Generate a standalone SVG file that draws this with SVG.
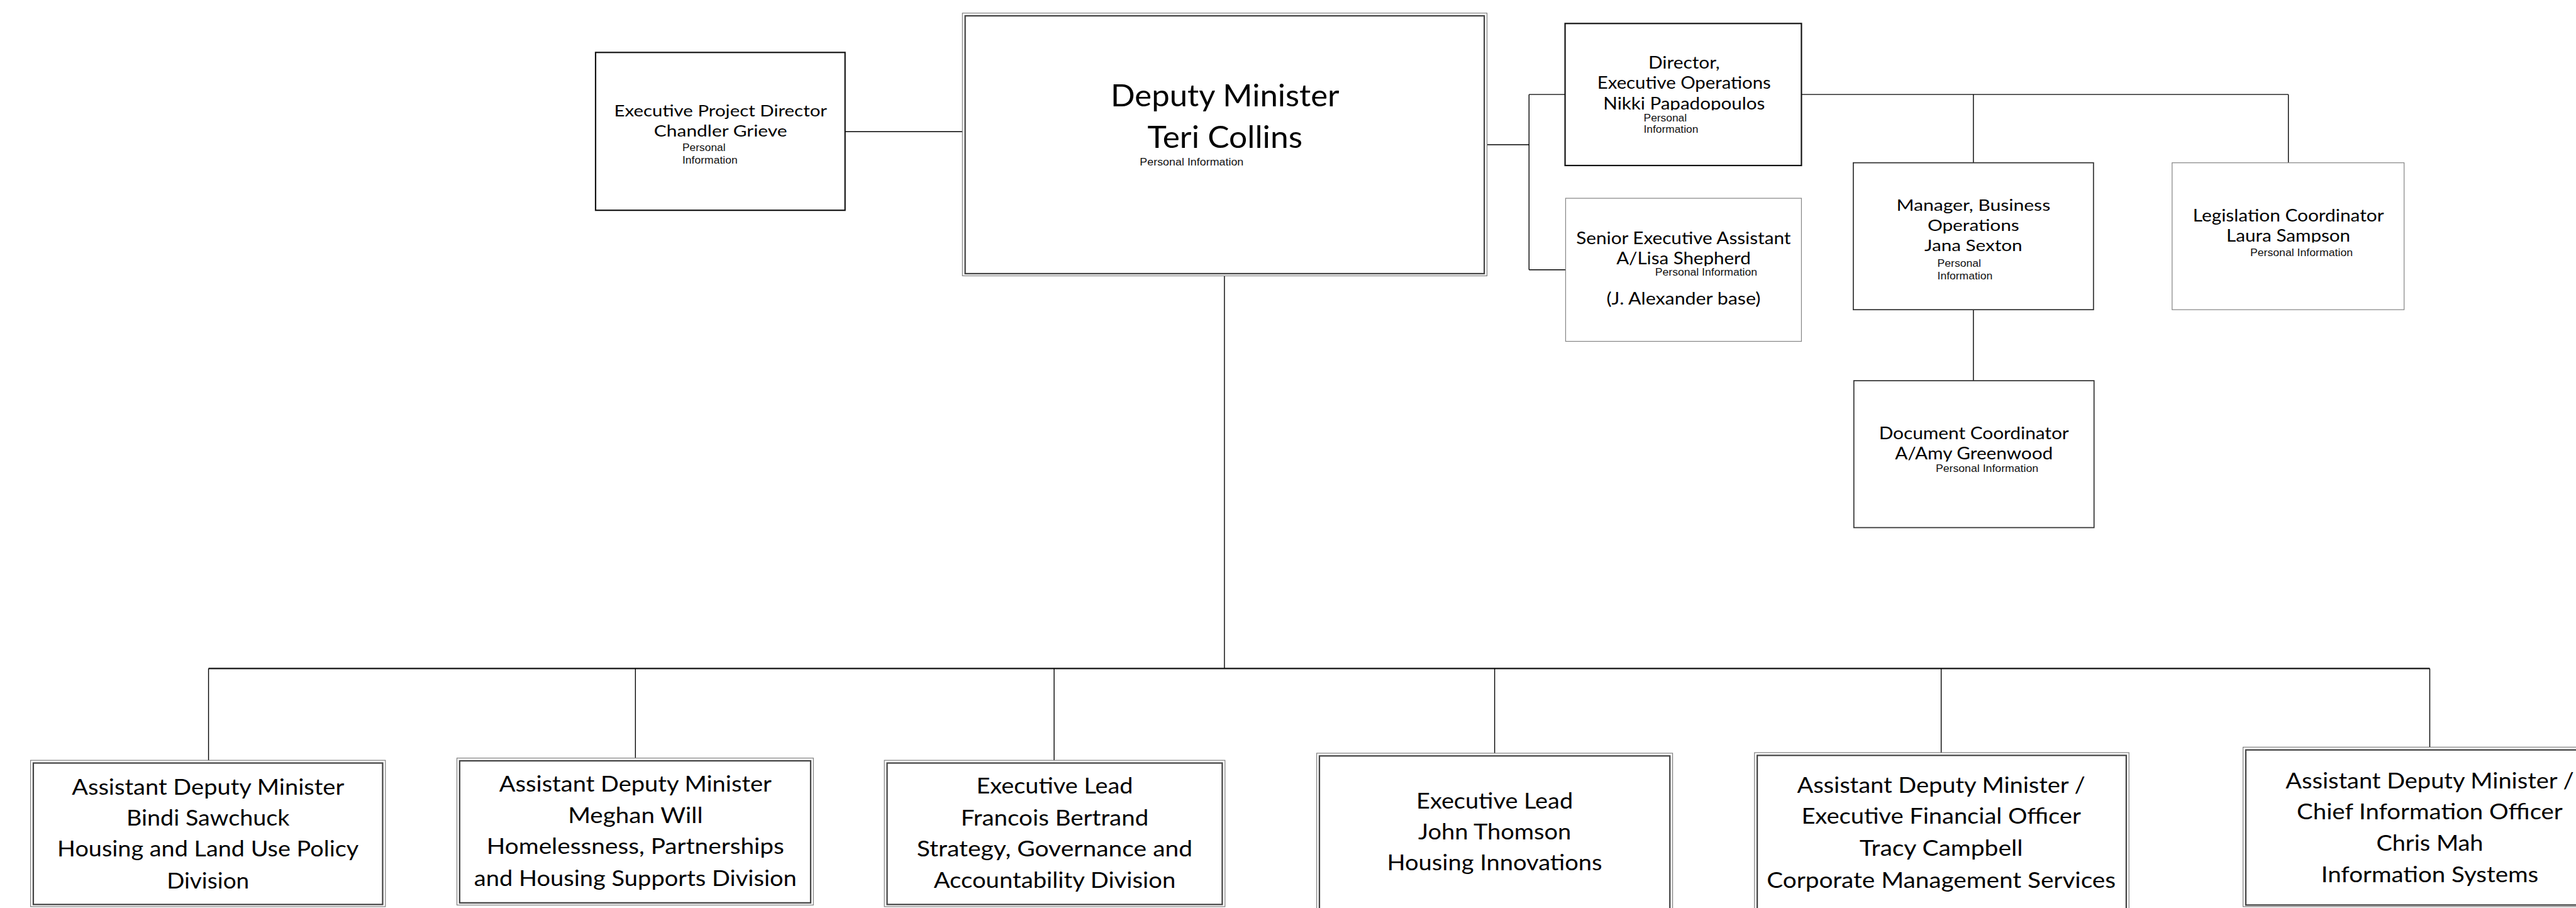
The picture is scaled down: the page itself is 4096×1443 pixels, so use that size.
<svg xmlns="http://www.w3.org/2000/svg" width="4096" height="1443" viewBox="0 0 4096 1443">
<style>
.t{font-family:Lato,"Open Sans","Liberation Sans",sans-serif;fill:#000;text-anchor:middle;lengthAdjust:spacingAndGlyphs}
.s{font-family:"Liberation Sans",Arial,sans-serif;font-size:20px;fill:#111}
.f29{font-size:29.5px}
.f31{font-size:31px}
.f56{font-size:56px}
.f40{font-size:39.5px}
.c{fill:none;stroke:#000;stroke-width:1.6}
.bus{fill:none;stroke:#111;stroke-width:2.6}
.b1{fill:#fff;stroke:#111;stroke-width:2.5}
.b2{fill:#fff;stroke:#858585;stroke-width:1.4}
.b3{fill:#fff;stroke:#333;stroke-width:2}
.do{fill:#fff;stroke:#777;stroke-width:1.3}
.di{fill:none;stroke:#444;stroke-width:2.6}
</style>
<defs>
<clipPath id="clipNikki"><rect x="2870" y="170" width="428" height="32"/></clipPath>
<clipPath id="clipLisa"><rect x="2870" y="455" width="428" height="32"/></clipPath>
<clipPath id="clipLaura"><rect x="3981" y="412" width="421" height="32"/></clipPath>
<clipPath id="clipAmy"><rect x="3398" y="810" width="436" height="35"/></clipPath>
</defs>
<rect width="4096" height="1443" fill="#fff"/>
<g transform="scale(0.868)">
<g id="connectors">
<path class="c" d="M1548 241H1763"/>
<path class="c" d="M2243 505V1224"/>
<path class="bus" d="M382 1224H4451"/>
<path class="c" d="M382 1224V1392M1164 1224V1388M1931 1224V1392M2738 1224V1379M3556 1224V1378M4451 1224V1368"/>
<path class="c" d="M2724 265H2801M2801 173V494M2801 173H2867M2801 494H2868"/>
<path class="c" d="M3300 173H4192M3615 173V298M4192 173V298M3615 567V697"/>
</g>

<g id="exec-project-director">
<rect class="b1" x="1091" y="96" width="457" height="289"/>
<text class="t f29" x="1320" y="213" textLength="390" lengthAdjust="spacingAndGlyphs">Executive Project Director</text>
<text class="t f29" x="1320" y="250" textLength="244" lengthAdjust="spacingAndGlyphs">Chandler Grieve</text>
<text class="s" x="1250" y="277" textLength="79" lengthAdjust="spacingAndGlyphs">Personal</text>
<text class="s" x="1250" y="300" textLength="101" lengthAdjust="spacingAndGlyphs">Information</text>
</g>

<g id="deputy-minister">
<rect class="do" x="1763" y="24" width="961" height="481"/>
<rect class="di" x="1768" y="29" width="951" height="472"/>
<text class="t f56" x="2244" y="195" textLength="419" lengthAdjust="spacingAndGlyphs">Deputy Minister</text>
<text class="t f56" x="2244" y="271" textLength="284" lengthAdjust="spacingAndGlyphs">Teri Collins</text>
<text class="s" x="2088" y="303" textLength="190" lengthAdjust="spacingAndGlyphs">Personal Information</text>
</g>

<g id="director-exec-ops">
<rect class="b1" x="2867" y="43" width="433" height="260"/>
<text class="t f31" x="3085" y="126" textLength="131" lengthAdjust="spacingAndGlyphs">Director,</text>
<text class="t f31" x="3085" y="163" textLength="318" lengthAdjust="spacingAndGlyphs">Executive Operations</text>
<text class="t f31" x="3085" y="200" textLength="296" lengthAdjust="spacingAndGlyphs" clip-path="url(#clipNikki)">Nikki Papadopoulos</text>
<text class="s" x="3011" y="222" textLength="79" lengthAdjust="spacingAndGlyphs">Personal</text>
<text class="s" x="3011" y="243" textLength="100" lengthAdjust="spacingAndGlyphs">Information</text>
</g>

<g id="senior-exec-assistant">
<rect class="b2" x="2868" y="363" width="432" height="262"/>
<text class="t f31" x="3084" y="447" textLength="393" lengthAdjust="spacingAndGlyphs">Senior Executive Assistant</text>
<text class="t f31" x="3084" y="484" textLength="246" lengthAdjust="spacingAndGlyphs" clip-path="url(#clipLisa)">A/Lisa Shepherd</text>
<text class="s" x="3032" y="505" textLength="187" lengthAdjust="spacingAndGlyphs">Personal Information</text>
<text class="t f31" x="3084" y="558" textLength="282" lengthAdjust="spacingAndGlyphs">(J. Alexander base)</text>
</g>

<g id="manager-business-ops">
<rect class="b3" x="3395" y="298" width="440" height="269"/>
<text class="t f29" x="3615" y="386" textLength="282" lengthAdjust="spacingAndGlyphs">Manager, Business</text>
<text class="t f29" x="3615" y="423" textLength="168" lengthAdjust="spacingAndGlyphs">Operations</text>
<text class="t f29" x="3615" y="460" textLength="179" lengthAdjust="spacingAndGlyphs">Jana Sexton</text>
<text class="s" x="3549" y="488" textLength="80" lengthAdjust="spacingAndGlyphs">Personal</text>
<text class="s" x="3549" y="512" textLength="101" lengthAdjust="spacingAndGlyphs">Information</text>
</g>

<g id="legislation-coordinator">
<rect class="b2" x="3979" y="298" width="425" height="269"/>
<text class="t f31" x="4192" y="405" textLength="350" lengthAdjust="spacingAndGlyphs">Legislation Coordinator</text>
<text class="t f31" x="4192" y="442" textLength="227" lengthAdjust="spacingAndGlyphs" clip-path="url(#clipLaura)">Laura Sampson</text>
<text class="s" x="4122" y="469" textLength="188" lengthAdjust="spacingAndGlyphs">Personal Information</text>
</g>

<g id="document-coordinator">
<rect class="b3" x="3396" y="697" width="440" height="269"/>
<text class="t f31" x="3616" y="804" textLength="348" lengthAdjust="spacingAndGlyphs">Document Coordinator</text>
<text class="t f31" x="3616" y="841" textLength="289" lengthAdjust="spacingAndGlyphs" clip-path="url(#clipAmy)">A/Amy Greenwood</text>
<text class="s" x="3546" y="864" textLength="188" lengthAdjust="spacingAndGlyphs">Personal Information</text>
</g>

<g id="adm-housing-land-use">
<rect class="do" x="56" y="1392" width="650" height="268"/>
<rect class="di" x="61" y="1397" width="640" height="259"/>
<text class="t f40" x="381" y="1455" textLength="499" lengthAdjust="spacingAndGlyphs">Assistant Deputy Minister</text>
<text class="t f40" x="381" y="1512" textLength="299" lengthAdjust="spacingAndGlyphs">Bindi Sawchuck</text>
<text class="t f40" x="381" y="1568" textLength="552" lengthAdjust="spacingAndGlyphs">Housing and Land Use Policy</text>
<text class="t f40" x="381" y="1627" textLength="151" lengthAdjust="spacingAndGlyphs">Division</text>
</g>

<g id="adm-homelessness">
<rect class="do" x="837" y="1388" width="653" height="269"/>
<rect class="di" x="842" y="1393" width="643" height="260"/>
<text class="t f40" x="1164" y="1449" textLength="499" lengthAdjust="spacingAndGlyphs">Assistant Deputy Minister</text>
<text class="t f40" x="1164" y="1507" textLength="247" lengthAdjust="spacingAndGlyphs">Meghan Will</text>
<text class="t f40" x="1164" y="1563" textLength="545" lengthAdjust="spacingAndGlyphs">Homelessness, Partnerships</text>
<text class="t f40" x="1164" y="1622" textLength="591" lengthAdjust="spacingAndGlyphs">and Housing Supports Division</text>
</g>

<g id="exec-lead-strategy">
<rect class="do" x="1620" y="1392" width="624" height="268"/>
<rect class="di" x="1625" y="1397" width="614" height="259"/>
<text class="t f40" x="1932" y="1453" textLength="287" lengthAdjust="spacingAndGlyphs">Executive Lead</text>
<text class="t f40" x="1932" y="1512" textLength="344" lengthAdjust="spacingAndGlyphs">Francois Bertrand</text>
<text class="t f40" x="1932" y="1568" textLength="505" lengthAdjust="spacingAndGlyphs">Strategy, Governance and</text>
<text class="t f40" x="1932" y="1625" textLength="443" lengthAdjust="spacingAndGlyphs">Accountability Division</text>
</g>

<g id="exec-lead-innovations">
<rect class="do" x="2412" y="1379" width="652" height="320"/>
<rect class="di" x="2417" y="1384" width="642" height="310"/>
<text class="t f40" x="2738" y="1480" textLength="287" lengthAdjust="spacingAndGlyphs">Executive Lead</text>
<text class="t f40" x="2738" y="1537" textLength="280" lengthAdjust="spacingAndGlyphs">John Thomson</text>
<text class="t f40" x="2738" y="1593" textLength="394" lengthAdjust="spacingAndGlyphs">Housing Innovations</text>
</g>

<g id="adm-corporate-services">
<rect class="do" x="3214" y="1378" width="686" height="320"/>
<rect class="di" x="3219" y="1383" width="676" height="310"/>
<text class="t f40" x="3556" y="1452" textLength="528" lengthAdjust="spacingAndGlyphs">Assistant Deputy Minister /</text>
<text class="t f40" x="3556" y="1508" textLength="512" lengthAdjust="spacingAndGlyphs">Executive Financial Officer</text>
<text class="t f40" x="3556" y="1567" textLength="299" lengthAdjust="spacingAndGlyphs">Tracy Campbell</text>
<text class="t f40" x="3556" y="1625" textLength="639" lengthAdjust="spacingAndGlyphs">Corporate Management Services</text>
</g>

<g id="adm-information-systems">
<rect class="do" x="4109" y="1368" width="684" height="292"/>
<rect class="di" x="4114" y="1373" width="674" height="284"/>
<text class="t f40" x="4451" y="1443" textLength="528" lengthAdjust="spacingAndGlyphs">Assistant Deputy Minister /</text>
<text class="t f40" x="4451" y="1500" textLength="487" lengthAdjust="spacingAndGlyphs">Chief Information Officer</text>
<text class="t f40" x="4451" y="1558" textLength="196" lengthAdjust="spacingAndGlyphs">Chris Mah</text>
<text class="t f40" x="4451" y="1615" textLength="398" lengthAdjust="spacingAndGlyphs">Information Systems</text>
</g>
</g>
</svg>
